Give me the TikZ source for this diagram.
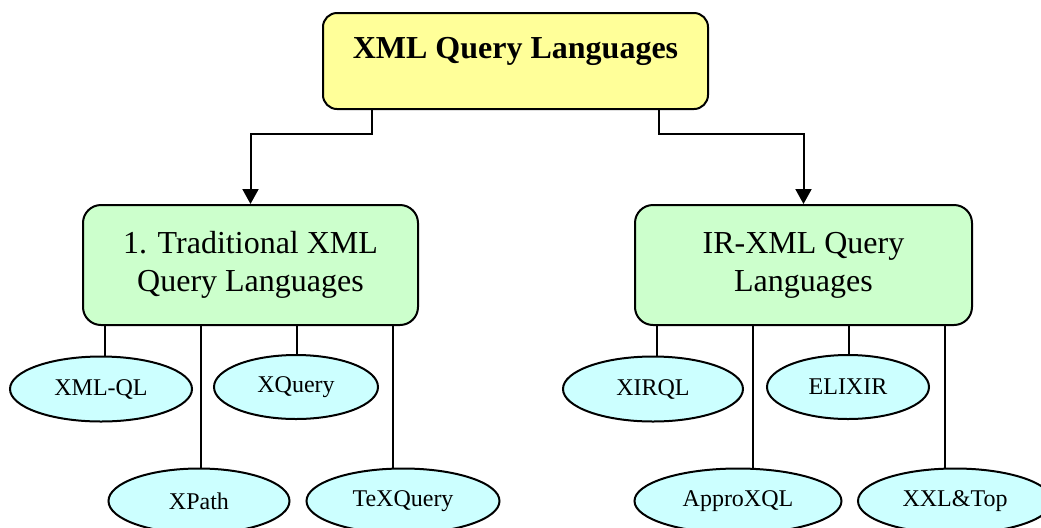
\documentclass[tikz,border=0pt]{standalone}
\usepackage{fontspec}
\setmainfont{Liberation Serif}
\usetikzlibrary{shapes.geometric,arrows.meta}
\definecolor{rootyellow}{RGB}{255,255,153}
\definecolor{groupgreen}{RGB}{204,255,204}
\definecolor{langcyan}{RGB}{204,255,255}

\begin{document}
\begin{tikzpicture}[x=0.5pt,y=-0.5pt,
    rootbox/.style={draw, line width=1pt, rounded corners=7pt, fill=rootyellow, minimum width=192.5pt,
      font=\fontsize{16}{19}\selectfont\bfseries, text height=12pt, text depth=15pt, inner ysep=10.5pt},
    groupbox/.style={draw, line width=1pt, rounded corners=9pt, fill=groupgreen, minimum width=167.5pt,
      minimum height=60pt, align=center, font=\fontsize{16}{19}\selectfont},
    lang/.style={draw, ellipse, line width=1pt, fill=langcyan, inner sep=0pt, minimum height=32.5pt,
      font=\fontsize{12}{14}\selectfont},
    link/.style={line width=1pt},
    arr/.style={line width=1pt, -{Triangle[width=8pt,length=7.5pt]}}]
    \useasboundingbox (0,0) rectangle (1041,527);
    \node[rootbox] (xml) at (515.5,61) {XML Query Languages};
    \node[groupbox] (trad) at (250.5,265) {1. Traditional XML\\Query Languages};
    \node[groupbox, minimum width=168.5pt] (irxml) at (803.5,265) {IR-XML Query\\Languages};
    % leaves of the left group
    \node[lang, minimum width=91pt] (xmlql) at (101,389) {XML-QL};
    \node[lang, minimum width=82pt, minimum height=32pt] (xquery) at (296,387) {XQuery};
    \node[lang, minimum width=90.5pt] (xpath) at (199,501) {XPath};
    \node[lang, minimum width=96.5pt] (texq) at (403,501) {TeXQuery};
    % leaves of the right group
    \node[lang, minimum width=90pt] (xirql) at (653,389) {XIRQL};
    \node[lang, minimum width=81pt, minimum height=32pt] (elixir) at (848,387) {ELIXIR};
    \node[lang, minimum width=103.5pt] (approx) at (738,501) {ApproXQL};
    \node[lang, minimum width=97pt] (xxl) at (955,501) {XXL\&Top};
    \draw[arr] ([xshift=-71.75pt]xml.south) -- ++(0,24) -| (trad.north);
    \draw[arr] ([xshift=71.75pt]xml.south) -- ++(0,24) -| (irxml.north);
    \foreach \e/\d in {xmlql/2pt, xpath/1pt, xquery/0.5pt, texq/-5pt}
        \draw[link] ([xshift=\d]\e.north) -- ([xshift=\d]\e.north |- trad.south);
    \foreach \e/\d in {xirql/2pt, approx/7.5pt, elixir/0.5pt, xxl/-5pt}
        \draw[link] ([xshift=\d]\e.north) -- ([xshift=\d]\e.north |- irxml.south);
\end{tikzpicture}
\end{document}
